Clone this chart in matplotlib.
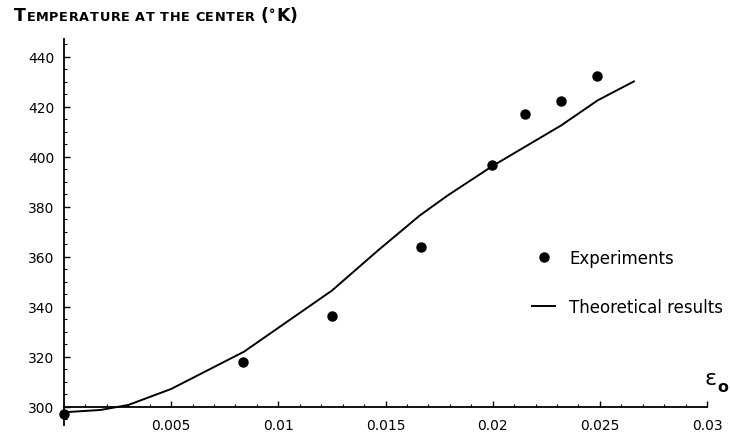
import matplotlib
matplotlib.use("Agg")
import matplotlib.pyplot as plt
from matplotlib.ticker import MultipleLocator, FixedLocator
from matplotlib.lines import Line2D

plt.rcParams['font.family'] = ['DejaVu Sans']

# Experimental data
exp_eps = [0.0, 0.00835, 0.0125, 0.01664, 0.01995, 0.02153, 0.02321, 0.02488]
exp_temp = [297.0, 318.0, 336.4, 364.1, 396.8, 417.2, 422.1, 432.3]

# Theoretical curve
th_eps = [0.0, 0.0017, 0.0030, 0.0050, 0.0084, 0.0125, 0.0147, 0.0166,
          0.0179, 0.0200, 0.0215, 0.0232, 0.0249, 0.0266]
th_temp = [297.9, 298.8, 300.8, 307.2, 322.1, 346.5, 362.9, 376.5,
           384.5, 396.3, 403.9, 412.5, 422.5, 430.1]

x_ticks = [0.005, 0.01, 0.015, 0.02, 0.025, 0.03]
x_tick_labels = ['0.005', '0.01', '0.015', '0.02', '0.025', '0.03']
y_ticks = [300, 320, 340, 360, 380, 400, 420, 440]

W, H = 730, 439
fig = plt.figure(figsize=(W/100, H/100), dpi=100)
ax = fig.add_axes([64/W, 1 - 425.5/H, (707-64)/W, (425.5-40)/H])

ax.plot(th_eps, th_temp, color='black', lw=1.4, solid_capstyle='round')
ax.plot(exp_eps, exp_temp, 'o', color='black', ms=6.5, clip_on=False)

ax.set_xlim(0, 0.03)
ax.set_ylim(293, 447)

for s in ['top', 'right']:
    ax.spines[s].set_visible(False)
ax.spines['bottom'].set_position(('data', 300))
ax.spines['left'].set_linewidth(1.3)
ax.spines['bottom'].set_linewidth(1.3)

ax.xaxis.set_major_locator(FixedLocator(x_ticks))
ax.set_xticklabels(x_tick_labels)
ax.xaxis.set_minor_locator(MultipleLocator(0.001))
ax.yaxis.set_major_locator(FixedLocator(y_ticks))
ax.yaxis.set_minor_locator(MultipleLocator(5))

ax.tick_params(axis='both', which='major', direction='in', length=4, width=1,
               labelsize=10, color='black')
ax.tick_params(axis='both', which='minor', direction='in', length=2, width=0.8)
ax.tick_params(axis='x', which='major', pad=8)
ax.tick_params(axis='y', which='major', pad=7)

# Legend
handles = [Line2D([], [], marker='o', ls='none', color='black', ms=6.5),
           Line2D([], [], color='black', lw=1.4)]
leg = ax.legend(handles, ['Experiments', 'Theoretical results'],
                loc='upper left', bbox_to_anchor=(532/W, 1 - 250/H),
                bbox_transform=fig.transFigure, frameon=False,
                prop={'family': 'DejaVu Sans', 'size': 12},
                handlelength=1.38, handletextpad=0.84,
                labelspacing=1.85, borderpad=0, borderaxespad=0)

# x-axis label (epsilon with subscript o)
fig.text(705/W, 1 - 385/H, 'ε', fontsize=16, ha='left', va='baseline')
fig.text(717/W, 1 - 392/H, 'o', fontsize=11.5, fontweight='bold',
         ha='left', va='baseline')

# Small-caps title for the y axis, letter-spaced to match the original
chars = [("T", 12.5, 0)]
for ch in "EMPERATURE AT THE CENTER ":
    chars.append((ch, 9.3, 0))
chars.append(("(", 12.5, 0))
chars.append(("°", 9.0, 3))
chars.append(("K", 12.5, 0))
chars.append((")", 12.5, 0))

renderer = fig.canvas.get_renderer()
x_start, x_end = 14, 298
ybase = 1 - 21/H
widths = []
for ch, size, dy in chars:
    t = fig.text(0, 0, ch if ch != ' ' else 'n', fontsize=size, fontweight='bold')
    w = t.get_window_extent(renderer).width
    if ch == ' ':
        w *= 0.45
    widths.append(w)
    t.remove()
track = (x_end - x_start - sum(widths)) / (len(chars) - 1)
xpix = x_start
for (ch, size, dy), w in zip(chars, widths):
    if ch != ' ':
        fig.text(xpix/W, ybase + dy/H, ch, fontsize=size, fontweight='bold',
                 ha='left', va='baseline')
    xpix += w + track

fig.savefig('out.png', dpi=100)
